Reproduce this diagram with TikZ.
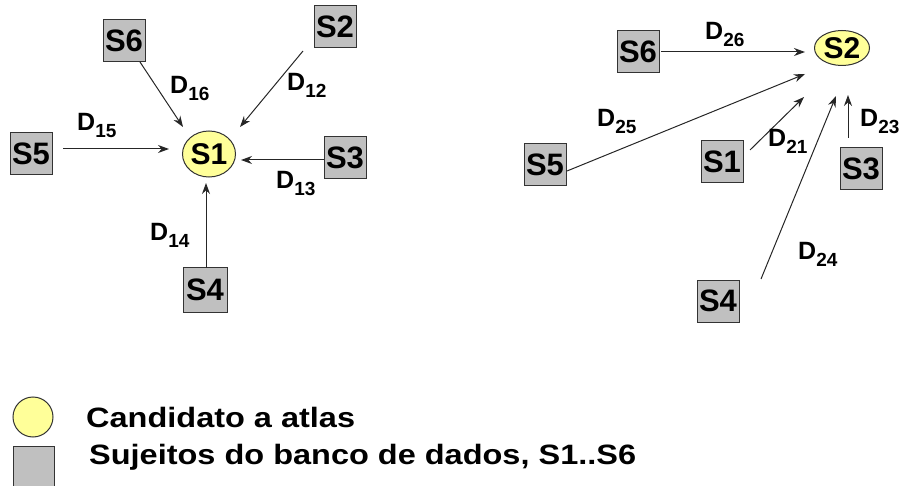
\documentclass[tikz,border=0pt]{standalone}
\usepackage{fontspec}
\setmainfont{Liberation Sans}
\usepackage{graphicx}
\usetikzlibrary{arrows.meta,calc,shapes.geometric}
\definecolor{boxgray}{HTML}{C0C0C0}
\definecolor{candy}{HTML}{FFFF99}
\definecolor{edgegray}{HTML}{333333}
\newcommand\Dsub[1]{D\raisebox{-7pt}{\fontsize{19}{22}\selectfont #1}}
\begin{document}
\begin{tikzpicture}[x=1pt,y=-1pt,
 subj/.style={rectangle,draw=edgegray,line width=1pt,fill=boxgray,minimum width=42pt,minimum height=42pt,inner sep=0pt,font=\fontsize{31}{36}\selectfont\bfseries},
 cand/.style={ellipse,draw=edgegray,line width=1pt,fill=candy,inner sep=0pt,font=\fontsize{30}{35}\selectfont\bfseries},
 arr/.style={-{Stealth[length=11pt,width=8pt]},line width=1pt,draw=black!85},
 dlab/.style={anchor=base west,inner sep=0pt,font=\fontsize{25}{30}\selectfont\bfseries},
 legtxt/.style={anchor=base west,inner sep=0pt,font=\fontsize{28}{32}\selectfont\bfseries}]
\useasboundingbox (0,0) rectangle (899,486);

% ---------- left cluster ----------
\node[cand,minimum width=53pt,minimum height=46pt] (L1) at (209,154) {S1};
\node[subj] (L6) at (124,41) {S6};
\node[subj] (L2) at (335,27) {S2};
\node[subj] (L5) at (31,154) {S5};
\node[subj] (L3) at (345,158) {S3};
\node[subj,minimum width=44pt,minimum height=44pt] (L4) at (205,290) {S4};

\draw[arr] ($(L6.center)+(16,21)$) -- ($(L1.center)+(-26,-27)$);
\draw[arr] ($(L2.center)+(-32,24)$) -- ($(L1.center)+(31,-27)$);
\draw[arr] ($(L5.center)+(32,-5)$) -- ($(L1.center)+(-40,-5)$);
\draw[arr] ($(L3.center)+(-21,2)$) -- ($(L1.center)+(32,6)$);
\draw[arr] ($(L4.center)+(1,-22)$) -- ($(L1.center)+(-3,29)$);

\node[dlab] (d16) at (170,94) {\Dsub{16}};
\node[dlab] (d12) at (287,91) {\Dsub{12}};
\node[dlab] (d15) at (77,131) {\Dsub{15}};
\node[dlab] (d13) at (276,189) {\Dsub{13}};
\node[dlab] (d14) at (150,241) {\Dsub{14}};

% ---------- right cluster ----------
\node[cand,minimum width=55pt,minimum height=35pt] (R2) at (842,48) {S2};
\node[subj] (R6) at (638,52) {S6};
\node[subj] (R5) at (545,165) {S5};
\node[subj] (R1) at (722,162) {S1};
\node[subj] (R3) at (861,169) {S3};
\node[subj] (R4) at (718,301) {S4};

\draw[arr] ($(R6.center)+(23,0)$) -- ($(R2.center)+(-37,4)$);
\draw[arr] ($(R5.center)+(22,6)$) -- ($(R2.center)+(-37,26)$);
\draw[arr] ($(R1.center)+(28,-12)$) -- ($(R2.center)+(-38,49)$);
\draw[arr] ($(R4.center)+(43,-22)$) -- ($(R2.center)+(-6,48)$);
\draw[arr] ($(R3.center)+(-13,-31)$) -- ($(R2.center)+(6,47)$);

\node[dlab] (d26) at (705,40) {\Dsub{26}};
\node[dlab] (d25) at (597,127) {\Dsub{25}};
\node[dlab] (d21) at (768,147) {\Dsub{21}};
\node[dlab] (d23) at (860,127) {\Dsub{23}};
\node[dlab] (d24) at (798,260) {\Dsub{24}};

% ---------- legend ----------
\node[circle,draw=edgegray,line width=1pt,fill=candy,minimum size=40pt,inner sep=0pt] (legc) at (33,417) {};
\node[rectangle,draw=edgegray,line width=1pt,fill=boxgray,minimum width=41pt,minimum height=41pt,inner sep=0pt] (legs) at (33.5,466.5) {};
\node[legtxt] (legt1) at (86,427) {\scalebox{1.16}[1]{Candidato a atlas}};
\node[legtxt] (legt2) at (89,464) {\scalebox{1.16}[1]{Sujeitos do banco de dados, S1..S6}};
\end{tikzpicture}
\end{document}
